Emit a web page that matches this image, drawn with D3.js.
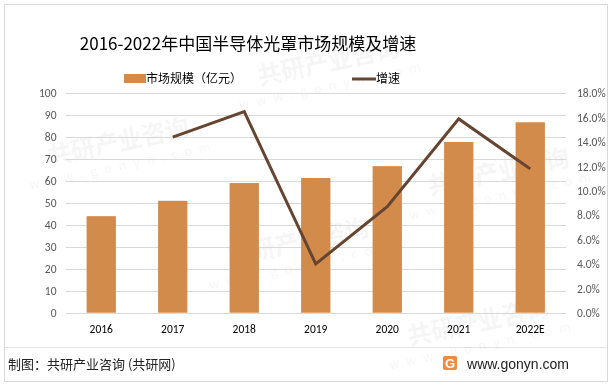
<!DOCTYPE html>
<html lang="zh">
<head>
<meta charset="UTF-8">
<title>2016-2022年中国半导体光罩市场规模及增速</title>
<style>
    body, html { margin: 0; padding: 0; background: #ffffff; }
    svg { display: block; font-family: "Microsoft YaHei", "Noto Sans CJK SC", sans-serif; }
</style>
</head>
<body>
<div id="chart"></div>
<script src="https://d3js.org/d3.v7.min.js"></script>
<script>
    // data
    const years = ["2016", "2017", "2018", "2019", "2020", "2021", "2022E"];
    const marketSize = [44.0, 51.0, 59.1, 61.4, 66.8, 77.8, 86.8];
    const growth = [null, 14.4, 16.5, 4.0, 8.7, 15.9, 11.8];
    const leftTicks = [0, 10, 20, 30, 40, 50, 60, 70, 80, 90, 100];
    const rightTicks = [0, 2, 4, 6, 8, 10, 12, 14, 16, 18];

    const W = 612, H = 385;
    const plot = { left: 65.5, right: 566, top: 93.3, bottom: 312.7 };

    const svg = d3.select("#chart").append("svg")
        .attr("width", W).attr("height", H);

    // outer frame + footer separator
    svg.append("rect")
        .attr("x", 4.5).attr("y", 4.5).attr("width", W - 9).attr("height", H - 8)
        .attr("fill", "none").attr("stroke", "#d9d9d9");
    svg.append("line")
        .attr("x1", 4.5).attr("x2", W - 4.5).attr("y1", 347.5).attr("y2", 347.5)
        .attr("stroke", "#e3e3e3");

    // faint watermarks, kept inside the frame
    const wm = svg.append("g").attr("fill", "#000").attr("opacity", 0.04)
        .attr("font-weight", "bold");
    [[120, 150], [330, 70], [300, 250], [500, 180], [480, 330]].forEach(([x, y]) => {
        const g = wm.append("g").attr("transform", `translate(${x},${y}) rotate(-12)`);
        g.append("text").attr("font-size", 24).attr("text-anchor", "middle").text("共研产业咨询");
        g.append("text").attr("font-size", 13).attr("y", 20).attr("text-anchor", "middle")
            .attr("letter-spacing", 7).attr("font-weight", "normal").text("www.gonyn.com");
    });

    const x = d3.scaleBand().domain(years).range([plot.left, plot.right]).paddingInner(0.59).paddingOuter(0.295);
    const yL = d3.scaleLinear().domain([0, 100]).range([plot.bottom, plot.top]);
    const yR = d3.scaleLinear().domain([0, 18]).range([plot.bottom, plot.top]);

    // gridlines
    svg.append("g").selectAll("line").data(leftTicks).join("line")
        .attr("x1", plot.left).attr("x2", plot.right)
        .attr("y1", d => Math.round(yL(d)) + 0.5).attr("y2", d => Math.round(yL(d)) + 0.5)
        .attr("stroke", "#d9d9d9").attr("stroke-width", 1);

    // left axis
    const axL = svg.append("g").attr("transform", `translate(${plot.left - 9},0)`)
        .call(d3.axisLeft(yL).tickValues(leftTicks).tickSize(0).tickPadding(0));
    axL.select(".domain").remove();
    axL.selectAll("text").attr("font-size", 11.5).attr("fill", "#595959")
        .attr("font-family", "Calibri, Carlito, 'Liberation Sans', sans-serif");

    // right axis
    const axR = svg.append("g").attr("transform", `translate(${plot.right + 11},0)`)
        .call(d3.axisRight(yR).tickValues(rightTicks).tickSize(0).tickPadding(0)
            .tickFormat(d => d.toFixed(1) + "%"));
    axR.select(".domain").remove();
    axR.selectAll("text").attr("font-size", 11.5).attr("fill", "#595959")
        .attr("font-family", "Calibri, Carlito, 'Liberation Sans', sans-serif");

    // bars
    svg.append("g").selectAll("rect").data(years).join("rect")
        .attr("x", d => x(d))
        .attr("width", x.bandwidth())
        .attr("y", (d, i) => yL(marketSize[i]))
        .attr("height", (d, i) => yL(0) - yL(marketSize[i]))
        .attr("fill", "#d38b4c");

    // growth line
    const pts = years.map((d, i) => ({ year: d, v: growth[i] })).filter(d => d.v !== null);
    svg.append("path").datum(pts)
        .attr("fill", "none").attr("stroke", "#654530").attr("stroke-width", 3)
        .attr("stroke-linejoin", "miter")
        .attr("d", d3.line().x(d => x(d.year) + x.bandwidth() / 2).y(d => yR(d.v)));

    // x axis labels
    const axX = svg.append("g").attr("transform", `translate(0,${plot.bottom + 12})`)
        .call(d3.axisBottom(x).tickSize(0).tickPadding(0));
    axX.select(".domain").remove();
    axX.selectAll("text").attr("font-size", 11.5).attr("fill", "#000")
        .attr("font-family", "Calibri, Carlito, 'Liberation Sans', sans-serif");

    // title
    svg.append("text").attr("x", 248).attr("y", 50).attr("text-anchor", "middle")
        .attr("font-size", 17).attr("fill", "#000")
        .text("2016-2022年中国半导体光罩市场规模及增速");

    // legend
    const lg = svg.append("g").attr("font-size", 12).attr("fill", "#000");
    lg.append("rect").attr("x", 124).attr("y", 74).attr("width", 22).attr("height", 9).attr("fill", "#d38b4c");
    lg.append("text").attr("x", 146).attr("y", 83).text("市场规模（亿元）");
    lg.append("line").attr("x1", 352).attr("x2", 376).attr("y1", 79).attr("y2", 79)
        .attr("stroke", "#654530").attr("stroke-width", 3);
    lg.append("text").attr("x", 376).attr("y", 83).text("增速");

    // footer
    svg.append("text").attr("x", 8).attr("y", 369).attr("font-size", 13).attr("fill", "#222")
        .text("制图：共研产业咨询 (共研网)");
    const logo = svg.append("g").attr("transform", "translate(443,356)");
    logo.append("rect").attr("width", 14).attr("height", 14).attr("rx", 2).attr("fill", "#f08a3c");
    logo.append("text").attr("x", 7).attr("y", 12).attr("text-anchor", "middle")
        .attr("font-size", 13).attr("font-weight", "bold").attr("fill", "#fff")
        .attr("font-family", "Arial, 'Liberation Sans', sans-serif").text("G");
    svg.append("text").attr("x", 569).attr("y", 369).attr("text-anchor", "end")
        .attr("font-size", 14).attr("fill", "#222")
        .attr("font-family", "Arial, 'Liberation Sans', sans-serif")
        .text("www.gonyn.com");
</script>
</body>
</html>
